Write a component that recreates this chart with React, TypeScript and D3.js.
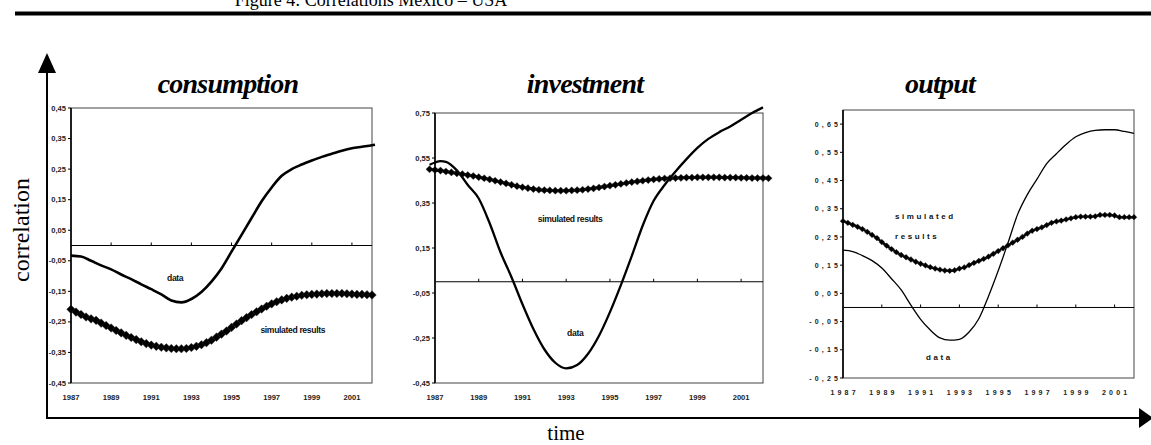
import React from 'react';
import * as d3 from 'd3';

// ---------- DATA ----------
const HALF_YEARS = [1987, 1987.5, 1988, 1988.5, 1989, 1989.5, 1990, 1990.5, 1991, 1991.5, 1992, 1992.5, 1993, 1993.5, 1994, 1994.5, 1995, 1995.5, 1996, 1996.5, 1997, 1997.5, 1998, 1998.5, 1999, 1999.5, 2000, 2000.5, 2001, 2001.5, 2002];
const YEAR_TICKS = [1987, 1989, 1991, 1993, 1995, 1997, 1999, 2001];
const CONS_Y_TICKS = [0.45, 0.35, 0.25, 0.15, 0.05, -0.05, -0.15, -0.25, -0.35, -0.45];
const INV_Y_TICKS = [0.75, 0.55, 0.35, 0.15, -0.05, -0.25, -0.45];
const OUT_Y_TICKS = [0.65, 0.55, 0.45, 0.35, 0.25, 0.15, 0.05, -0.05, -0.15, -0.25];

// consumption
const consumptionDataT = [...HALF_YEARS, 2002.15];
const consumptionData = [-0.033, -0.036, -0.05, -0.065, -0.078, -0.095, -0.11, -0.127, -0.143, -0.16, -0.18, -0.186, -0.175, -0.152, -0.118, -0.075, -0.02, 0.035, 0.09, 0.145, 0.19, 0.228, 0.25, 0.265, 0.278, 0.29, 0.3, 0.31, 0.318, 0.323, 0.328, 0.33];
const consumptionSimStart = 1987;
const consumptionSim = [-0.209, -0.218, -0.226, -0.234, -0.24, -0.245, -0.254, -0.262, -0.27, -0.278, -0.286, -0.294, -0.301, -0.308, -0.315, -0.321, -0.326, -0.33, -0.333, -0.335, -0.337, -0.338, -0.338, -0.337, -0.334, -0.33, -0.325, -0.318, -0.31, -0.3, -0.29, -0.28, -0.268, -0.257, -0.246, -0.236, -0.226, -0.217, -0.208, -0.199, -0.191, -0.184, -0.178, -0.173, -0.169, -0.166, -0.163, -0.161, -0.16, -0.159, -0.158, -0.157, -0.157, -0.157, -0.157, -0.158, -0.159, -0.16, -0.16, -0.161, -0.162];

// investment
const investmentDataT = [1986.75, 1987, 1987.25, 1987.5, 1988, 1988.5, 1989, 1989.5, 1990, 1990.5, 1991, 1991.5, 1992, 1992.5, 1993, 1993.5, 1994, 1994.5, 1995, 1995.5, 1996, 1996.5, 1997, 1997.5, 1998, 1998.5, 1999, 1999.5, 2000, 2000.5, 2001, 2001.5, 2002];
const investmentData = [0.52, 0.53, 0.536, 0.533, 0.495, 0.43, 0.37, 0.26, 0.13, 0.02, -0.1, -0.21, -0.3, -0.36, -0.385, -0.37, -0.32, -0.24, -0.135, -0.015, 0.115, 0.25, 0.36, 0.43, 0.49, 0.545, 0.595, 0.635, 0.665, 0.69, 0.72, 0.75, 0.775];
const investmentSimStart = 1986.75;
const investmentSim = [0.5, 0.497, 0.494, 0.49, 0.486, 0.482, 0.478, 0.474, 0.47, 0.465, 0.46, 0.455, 0.449, 0.443, 0.437, 0.431, 0.425, 0.42, 0.416, 0.412, 0.409, 0.407, 0.406, 0.405, 0.405, 0.405, 0.406, 0.407, 0.409, 0.412, 0.415, 0.419, 0.423, 0.427, 0.431, 0.435, 0.439, 0.443, 0.446, 0.449, 0.452, 0.455, 0.457, 0.459, 0.46, 0.461, 0.462, 0.463, 0.463, 0.464, 0.464, 0.464, 0.464, 0.464, 0.463, 0.463, 0.463, 0.462, 0.462, 0.461, 0.461, 0.461, 0.46];

// output
const outputDataT = HALF_YEARS;
const outputData = [0.203, 0.198, 0.184, 0.166, 0.14, 0.102, 0.062, 0.008, -0.042, -0.08, -0.108, -0.116, -0.113, -0.087, -0.04, 0.04, 0.13, 0.228, 0.33, 0.4, 0.455, 0.51, 0.545, 0.578, 0.605, 0.62, 0.628, 0.63, 0.63, 0.624, 0.617];
const outputSimStart = 1987;
const outputSim = [0.306, 0.3, 0.293, 0.286, 0.278, 0.268, 0.257, 0.246, 0.232, 0.219, 0.207, 0.196, 0.186, 0.178, 0.17, 0.162, 0.155, 0.149, 0.143, 0.138, 0.134, 0.131, 0.13, 0.132, 0.138, 0.142, 0.15, 0.158, 0.165, 0.172, 0.18, 0.19, 0.2, 0.21, 0.22, 0.23, 0.24, 0.25, 0.262, 0.272, 0.278, 0.284, 0.292, 0.3, 0.305, 0.308, 0.312, 0.316, 0.32, 0.322, 0.322, 0.322, 0.323, 0.328, 0.328, 0.328, 0.326, 0.32, 0.32, 0.32, 0.32];

// ---------- LAYOUT ----------
const W = 1151;
const H = 445;
const X_DOMAIN: [number, number] = [1987, 2002];

const quarters = (start: number, n: number) => d3.range(n).map((i) => start + i * 0.25);

const locale = d3.formatLocale({ decimal: ',', thousands: '.', grouping: [3], currency: ['', ''], minus: '-' });
const fmt = locale.format('.2f');

type Ann = { text: string; t: number; v: number; anchor: 'start' | 'middle' | 'end' };

type Panel = {
  title: string;
  titleX: number;
  x0: number; x1: number; y0: number; y1: number;
  yDomain: [number, number];
  yTicks: number[];
  spaced: boolean;
  dataT: number[]; data: number[];
  simStart: number; sim: number[];
  dataW: number; simR: number; simW: number;
  anns: Ann[];
};

const panels: Panel[] = [
  {
    title: 'consumption', titleX: 228,
    x0: 71, x1: 372, y0: 108, y1: 383,
    yDomain: [-0.45, 0.45], yTicks: CONS_Y_TICKS, spaced: false,
    dataT: consumptionDataT, data: consumptionData,
    simStart: consumptionSimStart, sim: consumptionSim,
    dataW: 2.6, simR: 4.3, simW: 2,
    anns: [
      { text: 'data', t: 1992.2, v: -0.116, anchor: 'middle' },
      { text: 'simulated results', t: 1998.06, v: -0.286, anchor: 'middle' },
    ],
  },
  {
    title: 'investment', titleX: 585,
    x0: 435, x1: 763, y0: 113, y1: 383,
    yDomain: [-0.45, 0.75], yTicks: INV_Y_TICKS, spaced: false,
    dataT: investmentDataT, data: investmentData,
    simStart: investmentSimStart, sim: investmentSim,
    dataW: 2.3, simR: 3.6, simW: 3,
    anns: [
      { text: 'simulated results', t: 1993.19, v: 0.266, anchor: 'middle' },
      { text: 'data', t: 1993.42, v: -0.241, anchor: 'middle' },
    ],
  },
  {
    title: 'output', titleX: 940,
    x0: 843, x1: 1134, y0: 110, y1: 378,
    yDomain: [-0.25, 0.7], yTicks: OUT_Y_TICKS, spaced: true,
    dataT: outputDataT, data: outputData,
    simStart: outputSimStart, sim: outputSim,
    dataW: 1.3, simR: 2.9, simW: 2.4,
    anns: [
      { text: 'simulated', t: 1989.68, v: 0.312, anchor: 'start' },
      { text: 'results', t: 1989.68, v: 0.244, anchor: 'start' },
      { text: 'data', t: 1991.9, v: -0.186, anchor: 'middle' },
    ],
  },
];

const NARROW = '"Liberation Sans Narrow", "Arial Narrow", "Liberation Sans", Arial, sans-serif';
const SANS = '"Liberation Sans", Arial, sans-serif';
const SERIF = '"Liberation Serif", "Times New Roman", serif';

const diamond = (r: number) => `M0,${-r}L${r},0L0,${r}L${-r},0Z`;

function PanelView({ p }: { p: Panel }) {
  const x = d3.scaleLinear().domain(X_DOMAIN).range([p.x0, p.x1]);
  const y = d3.scaleLinear().domain(p.yDomain).range([p.y1, p.y0]);
  const zeroY = y(0);

  const dataPts: [number, number][] = p.dataT.map((t, i) => [t, p.data[i]]);
  const simT = quarters(p.simStart, p.sim.length);
  const simPts: [number, number][] = simT.map((t, i) => [t, p.sim[i]]);

  const dataLine = d3.line<[number, number]>().x((d) => x(d[0])).y((d) => y(d[1])).curve(d3.curveMonotoneX);
  const simLine = d3.line<[number, number]>().x((d) => x(d[0])).y((d) => y(d[1])).curve(d3.curveMonotoneX);

  const tickFont = p.spaced ? SANS : NARROW;
  const tickSize = p.spaced ? 7 : 7.6;
  const ls = p.spaced ? 3.2 : 0;

  const annSize = p.spaced ? 8 : 8.6;
  const annLs = p.spaced ? 2.6 : -0.35;

  return (
    <g>
      <text x={p.titleX} y={93} textAnchor="middle" fontFamily={SERIF} fontStyle="italic" fontWeight="bold" fontSize={28} letterSpacing={-0.8} fill="#000">
        {p.title}
      </text>
      <rect x={p.x0} y={p.y0} width={p.x1 - p.x0} height={p.y1 - p.y0} fill="none" stroke="#444" strokeWidth={1} />
      <line x1={p.x0} x2={p.x0} y1={p.y0} y2={p.y1} stroke="#000" strokeWidth={1.6} />
      {p.yTicks.map((v) => (
        <g key={v}>
          <line x1={p.x0 - 3} x2={p.x0} y1={y(v)} y2={y(v)} stroke="#000" strokeWidth={1} />
          <text x={p.x0 - 5 + ls} y={y(v) + 2.6} textAnchor="end" fontFamily={tickFont} fontWeight="bold" fontSize={tickSize} letterSpacing={ls} fill="#222">
            {fmt(v)}
          </text>
        </g>
      ))}
      <line x1={p.x0} x2={p.x1} y1={zeroY} y2={zeroY} stroke="#000" strokeWidth={1} />
      {YEAR_TICKS.slice(1).map((t) => (
        <line key={t} x1={x(t)} x2={x(t)} y1={zeroY - 3} y2={zeroY} stroke="#000" strokeWidth={1} />
      ))}
      {YEAR_TICKS.map((t) => (
        <text key={t} x={x(t) + ls / 2} y={p.y1 + 17} textAnchor="middle" fontFamily={tickFont} fontWeight="bold" fontSize={tickSize} letterSpacing={ls} fill="#222">
          {String(t)}
        </text>
      ))}
      <path d={dataLine(dataPts) || ''} fill="none" stroke="#000" strokeWidth={p.dataW} strokeLinejoin="round" />
      <path d={simLine(simPts) || ''} fill="none" stroke="#000" strokeWidth={p.simW} />
      {simPts.map((d, i) => (
        <path key={i} d={diamond(p.simR)} transform={`translate(${x(d[0])},${y(d[1])})`} fill="#000" stroke="#333" strokeWidth={0.4} />
      ))}
      {p.anns.map((a, i) => (
        <text key={i} x={x(a.t) + (a.anchor === 'middle' ? annLs / 2 : 0)} y={y(a.v)} textAnchor={a.anchor} fontFamily={SANS} fontWeight="bold" fontSize={annSize} letterSpacing={annLs} fill="#111">
          {a.text}
        </text>
      ))}
    </g>
  );
}

export default function App() {
  return (
    <svg width={W} height={H} viewBox={`0 0 ${W} ${H}`} style={{ position: 'absolute', left: 0, top: 0, background: '#fff' }}>
      <rect x={0} y={0} width={W} height={H} fill="#fff" />
      <text x={371} y={6} textAnchor="middle" fontFamily={SERIF} fontSize={18} fill="#000">
        Figure 4: Correlations Mexico – USA
      </text>
      <line x1={15} x2={W} y1={13.5} y2={13.5} stroke="#000" strokeWidth={4} />
      <line x1={47} x2={47} y1={419} y2={70} stroke="#000" strokeWidth={2} />
      <path d="M47,53L38,73L56,73Z" fill="#000" />
      <line x1={46} x2={1141} y1={418} y2={418} stroke="#000" strokeWidth={2} />
      <path d="M1153,418L1139,408L1139,428Z" fill="#000" />
      <text transform="translate(29,230) rotate(-90)" textAnchor="middle" fontFamily={SERIF} fontSize={24} fill="#000">
        correlation
      </text>
      <text x={566} y={440} textAnchor="middle" fontFamily={SERIF} fontSize={21} fill="#000">
        time
      </text>
      {panels.map((p) => (
        <PanelView key={p.title} p={p} />
      ))}
    </svg>
  );
}
